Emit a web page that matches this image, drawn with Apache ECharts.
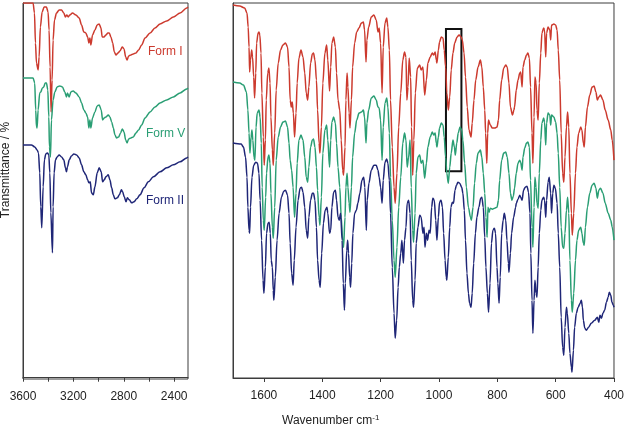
<!DOCTYPE html>
<html>
<head>
<meta charset="UTF-8">
<title>IR spectra - Form I / V / II</title>
<script type="text/javascript" src="https://cdn.jsdelivr.net/npm/echarts@6.0.0/dist/echarts.min.js"></script>
</head>
<body style="margin:0;background:#fff;">
<div id="chart" style="width:627px;height:427px;"></div>
<script>
// tick positions (cm-1)
var highTickMarks = [3600, 3400, 3200, 3000, 2800, 2600, 2400];
var highTicks = [3600, 3200, 2800, 2400];
var lowTicks = [1600, 1400, 1200, 1000, 800, 600, 400];

var formNames = ['Form I', 'Form V', 'Form II'];
var formColors = ['#cc3a2e', '#2a9e74', '#1f2677'];

// marked region in the fingerprint panel [wavenumber, offset transmittance]
var boxFrom = [976, 349];
var boxTo = [923, 207];

// 3600-2290 cm-1, offset transmittance (arbitrary units)
var formI_high = [[3600,375],[3520,375],[3509,365],[3501,335],[3493,315],[3480,308],[3472,321],[3462,351],[3448,366],[3432,371],[3414,371],[3401,366],[3393,348],[3385,311],[3377,266],[3369,298],[3361,338],[3350,358],[3334,365],[3313,368],[3294,368],[3276,365],[3263,361],[3252,363],[3241,361],[3228,363],[3207,365],[3180,363],[3154,360],[3135,353],[3117,346],[3101,345],[3087,341],[3077,335],[3069,340],[3061,333],[3048,343],[3029,348],[3011,353],[2995,354],[2981,350],[2971,341],[2957,341],[2942,343],[2926,345],[2915,345],[2902,341],[2888,335],[2875,326],[2862,323],[2846,325],[2830,327],[2812,331],[2798,329],[2785,321],[2774,318],[2761,322],[2743,323],[2724,324],[2703,325],[2682,328],[2658,333],[2631,340],[2591,345],[2552,350],[2512,354],[2459,357],[2406,361],[2353,365],[2300,370],[2290,371]];

var formV_high = [[3600,300],[3520,300],[3507,295],[3499,268],[3493,251],[3488,250],[3480,268],[3467,285],[3459,286],[3446,290],[3435,291],[3424,295],[3414,295],[3403,288],[3395,261],[3390,231],[3382,221],[3374,258],[3361,278],[3347,286],[3329,291],[3308,292],[3287,291],[3268,286],[3255,281],[3247,285],[3233,281],[3220,286],[3202,287],[3180,285],[3154,281],[3135,275],[3117,268],[3101,265],[3087,261],[3077,250],[3069,258],[3061,250],[3048,260],[3029,266],[3011,272],[2995,273],[2979,268],[2968,258],[2955,260],[2942,261],[2923,263],[2910,261],[2896,256],[2883,250],[2870,243],[2857,240],[2841,241],[2825,245],[2812,249],[2798,246],[2785,238],[2774,235],[2761,239],[2743,240],[2724,241],[2703,245],[2682,248],[2658,253],[2631,260],[2591,266],[2552,271],[2512,275],[2459,278],[2406,281],[2353,285],[2300,289],[2290,290]];

var formII_high = [[3600,233],[3533,233],[3507,231],[3488,228],[3477,225],[3467,205],[3459,171],[3451,150],[3440,191],[3430,218],[3419,224],[3406,225],[3395,223],[3387,205],[3379,165],[3366,125],[3361,171],[3353,205],[3342,218],[3329,221],[3313,223],[3294,221],[3276,218],[3263,210],[3255,206],[3247,211],[3233,218],[3215,222],[3196,224],[3175,223],[3154,220],[3135,213],[3117,206],[3101,203],[3087,198],[3077,195],[3066,196],[3056,185],[3042,183],[3029,191],[3011,205],[2995,210],[2979,206],[2968,196],[2955,198],[2942,201],[2923,203],[2910,198],[2896,190],[2883,183],[2870,179],[2851,180],[2835,183],[2819,188],[2809,186],[2796,181],[2782,176],[2772,180],[2756,178],[2737,175],[2719,176],[2697,179],[2671,183],[2639,190],[2605,196],[2565,201],[2512,206],[2459,210],[2406,213],[2353,216],[2300,220],[2290,221]];

// 1706-400 cm-1
var formI_low = [[1706,373],[1683,372],[1666,370],[1658,365],[1654,351],[1651,331],[1649,306],[1646,318],[1642,328],[1639,321],[1635,301],[1632,280],[1628,305],[1625,335],[1620,345],[1617,346],[1614,343],[1610,325],[1607,285],[1602,241],[1599,213],[1595,238],[1592,278],[1587,305],[1583,310],[1579,295],[1576,261],[1571,228],[1568,213],[1563,245],[1558,288],[1551,315],[1543,328],[1535,333],[1526,335],[1519,331],[1514,311],[1510,278],[1506,271],[1503,276],[1499,265],[1495,241],[1490,265],[1486,295],[1480,320],[1473,328],[1466,321],[1460,305],[1455,285],[1450,278],[1446,291],[1440,315],[1434,324],[1430,325],[1425,318],[1420,298],[1416,268],[1411,235],[1408,225],[1403,251],[1398,295],[1391,325],[1385,333],
  [1381,318],[1375,287],[1371,311],[1367,335],[1361,341],[1355,331],[1351,305],[1346,278],[1340,268],[1335,238],[1330,208],[1327,203],[1322,231],[1319,278],[1315,305],[1312,291],[1308,265],[1305,250],[1300,278],[1296,311],[1289,335],[1282,346],[1274,350],[1266,355],[1259,356],[1255,348],[1250,316],[1247,338],[1241,351],[1232,361],[1223,363],[1215,358],[1209,346],[1205,350],[1200,335],[1195,285],[1191,331],[1185,355],[1179,360],[1175,351],[1170,328],[1166,278],[1160,231],[1154,191],[1150,175],[1144,205],[1138,251],[1131,285],[1124,318],[1118,326],[1113,321],[1110,278],[1106,291],[1102,320],[1097,301],[1094,251],[1090,203],[1086,238],[1081,285],[1074,310],
  [1066,313],[1061,308],[1055,311],[1049,283],[1043,298],[1038,315],[1030,321],[1023,325],[1018,323],[1013,326],[1009,318],[1007,315],[1002,328],[998,336],[992,341],[986,340],[982,328],[977,311],[973,285],[968,268],[963,281],[958,308],[952,325],[946,335],[938,341],[931,343],[924,341],[920,338],[914,325],[909,301],[903,271],[897,248],[890,241],[886,255],[880,278],[874,298],[866,311],[858,318],[853,311],[848,291],[843,268],[840,245],[836,215],[833,245],[830,258],[824,253],[817,250],[809,250],[801,251],[796,258],[792,278],[785,298],[778,310],[771,313],[766,311],[760,295],[755,271],[748,263],[743,268],
  [741,271],[735,288],[729,298],[723,305],[720,306],[715,291],[712,311],[706,318],[700,323],[695,325],[690,320],[686,291],[681,245],[678,215],[674,261],[671,301],[667,295],[664,268],[660,258],[656,295],[651,325],[647,345],[641,350],[638,348],[634,321],[631,345],[626,351],[620,348],[617,338],[614,353],[606,354],[600,353],[595,348],[591,328],[586,298],[581,245],[576,205],[572,196],[568,221],[563,251],[559,266],[555,251],[551,205],[546,165],[543,143],[538,165],[532,205],[527,231],[521,245],[514,251],[510,248],[505,235],[502,231],[498,251],[491,271],[483,283],[475,291],[468,292],[462,286],[457,278],[452,281],[446,283],[438,278],[430,268],[420,258],[411,248],[406,238],[400,218]];

var formV_low = [[1706,296],[1683,295],[1670,293],[1660,286],[1655,268],[1651,245],[1648,225],[1644,241],[1641,248],[1638,238],[1634,221],[1631,218],[1627,251],[1623,265],[1617,268],[1613,261],[1609,235],[1606,191],[1602,158],[1599,148],[1594,181],[1591,205],[1586,221],[1583,223],[1579,215],[1576,185],[1571,151],[1568,140],[1563,171],[1558,218],[1551,241],[1543,251],[1535,256],[1526,257],[1519,251],[1514,235],[1510,218],[1505,208],[1500,191],[1495,161],[1490,185],[1486,215],[1480,238],[1473,243],[1466,238],[1460,221],[1455,201],[1450,196],[1446,211],[1440,231],[1434,238],[1430,239],[1425,231],[1420,211],[1416,188],[1411,161],[1408,153],[1403,181],[1398,225],[1391,248],[1385,253],
  [1381,238],[1375,211],[1371,238],[1367,256],[1361,261],[1355,255],[1351,235],[1346,211],[1340,191],[1335,161],[1330,138],[1327,131],[1322,161],[1319,191],[1315,205],[1312,191],[1308,175],[1305,166],[1300,191],[1296,221],[1289,245],[1282,258],[1274,265],[1266,266],[1259,268],[1255,261],[1250,235],[1247,255],[1241,268],[1232,280],[1223,282],[1215,278],[1209,271],[1205,270],[1200,258],[1195,218],[1191,251],[1185,275],[1179,280],[1175,271],[1170,245],[1166,201],[1160,158],[1154,118],[1150,101],[1144,131],[1138,171],[1131,201],[1124,235],[1118,245],[1113,238],[1109,211],[1104,221],[1099,238],[1095,191],[1090,148],[1087,136],[1082,165],[1078,205],[1072,221],
  [1066,223],[1061,215],[1055,218],[1049,200],[1043,215],[1038,231],[1030,241],[1023,246],[1018,243],[1013,245],[1009,235],[1007,231],[1002,241],[998,250],[992,255],[986,253],[982,241],[977,221],[973,205],[968,195],[963,211],[958,225],[952,238],[947,231],[944,223],[939,235],[934,245],[928,251],[922,248],[918,238],[912,215],[906,191],[899,171],[892,161],[889,158],[883,171],[878,195],[872,215],[866,225],[858,228],[853,221],[848,205],[843,185],[839,161],[835,141],[832,171],[828,166],[824,170],[817,169],[809,170],[801,171],[796,178],[792,198],[785,218],[778,225],[771,226],[766,221],[760,205],[755,185],[750,178],[745,182],
  [741,190],[735,205],[729,215],[723,218],[720,216],[715,208],[712,221],[706,230],[700,235],[695,236],[690,231],[686,198],[681,151],[678,131],[674,171],[671,201],[667,191],[664,175],[660,170],[656,205],[651,238],[647,255],[641,260],[638,256],[634,233],[631,255],[626,265],[620,263],[617,253],[614,263],[606,261],[600,256],[595,245],[591,225],[586,191],[581,151],[576,131],[572,130],[568,145],[563,168],[559,181],[555,165],[551,118],[546,78],[543,66],[538,85],[532,118],[527,138],[521,148],[514,151],[510,145],[505,135],[502,133],[498,151],[491,171],[483,185],[475,193],[468,195],[462,190],[457,180],[452,188],[446,190],[438,185],[430,175],[420,165],[411,158],[406,151],[400,138]];

var formII_low = [[1706,235],[1678,234],[1670,231],[1663,221],[1658,201],[1655,171],[1651,148],[1649,145],[1646,171],[1641,201],[1635,213],[1628,216],[1622,215],[1617,205],[1613,178],[1608,138],[1603,98],[1600,85],[1595,111],[1591,145],[1586,155],[1582,156],[1578,145],[1575,118],[1571,111],[1568,88],[1566,78],[1561,101],[1555,138],[1548,165],[1540,181],[1532,187],[1526,188],[1519,183],[1514,165],[1510,135],[1505,105],[1500,93],[1496,118],[1490,151],[1483,178],[1476,190],[1471,191],[1466,186],[1460,171],[1455,148],[1450,140],[1446,161],[1440,178],[1434,185],[1430,185],[1425,178],[1420,151],[1416,118],[1411,98],[1407,91],[1402,125],[1396,155],[1390,168],[1384,171],
  [1381,165],[1375,145],[1371,148],[1367,171],[1361,186],[1355,188],[1351,178],[1346,161],[1342,158],[1337,165],[1332,138],[1328,95],[1324,68],[1321,95],[1316,128],[1313,138],[1310,125],[1306,101],[1303,91],[1299,115],[1295,145],[1289,165],[1283,168],[1278,175],[1271,185],[1264,198],[1258,201],[1254,191],[1249,148],[1246,178],[1240,195],[1232,208],[1223,213],[1215,213],[1209,208],[1205,201],[1200,191],[1195,175],[1191,198],[1185,216],[1179,219],[1175,215],[1170,198],[1166,165],[1160,111],[1154,65],[1150,40],[1145,58],[1140,91],[1136,111],[1131,125],[1127,138],[1122,115],[1118,138],[1113,151],[1109,175],[1104,178],[1099,165],[1095,118],[1090,78],[1087,71],[1082,98],[1078,135],[1072,151],
  [1066,163],[1061,161],[1055,145],[1051,151],[1048,131],[1043,145],[1039,138],[1034,148],[1030,145],[1025,171],[1021,180],[1016,178],[1011,158],[1007,138],[1002,161],[998,176],[993,178],[988,171],[984,145],[979,118],[975,101],[973,98],[968,121],[963,151],[959,171],[954,176],[950,175],[945,188],[940,193],[935,196],[929,195],[922,191],[918,185],[913,168],[909,138],[904,105],[899,85],[895,75],[890,71],[886,85],[881,115],[875,145],[870,161],[863,171],[857,180],[853,181],[848,171],[843,141],[839,111],[834,85],[830,66],[825,95],[820,135],[815,148],[810,150],[806,145],[801,111],[798,95],[794,75],[790,101],[785,145],[780,158],[776,165],[771,158],[767,138],[762,115],[760,106],[755,125],[751,145],[744,161],[737,171],
  [735,175],[729,179],[723,183],[720,181],[715,178],[710,188],[704,191],[698,192],[693,186],[688,165],[685,125],[681,78],[678,45],[674,78],[671,98],[667,85],[664,81],[660,111],[656,145],[651,168],[647,178],[641,181],[638,178],[634,161],[631,178],[626,196],[622,201],[617,185],[614,165],[610,185],[606,193],[601,190],[595,175],[591,145],[586,111],[581,61],[576,31],[572,23],[568,51],[563,71],[560,65],[555,45],[551,25],[546,11],[544,6],[539,28],[535,51],[529,65],[523,71],[516,75],[512,78],[508,71],[505,58],[500,50],[495,48],[487,51],[478,55],[466,58],[457,61],[452,56],[448,63],[443,60],[438,65],[432,68],[426,76],[420,81],[416,86],[411,83],[407,76],[402,73],[400,71]];

var chart = echarts.init(document.getElementById('chart'));
var axisColor = '#3c3c3c';
var textColor = '#222';
var font = '"Liberation Sans", Arial, sans-serif';

function spectrum(name, data, color, idx) {
    return {
        name: name,
        type: 'line',
        xAxisIndex: idx,
        yAxisIndex: idx,
        data: data,
        symbol: 'none',
        showSymbol: false,
        smooth: 0.3,
        smoothMonotone: 'x',
        lineStyle: { color: color, width: 1.5 },
        itemStyle: { color: color },
        z: 3
    };
}

function xAxisOf(idx, min, max, tickMarks, labels) {
    return {
        type: 'value', gridIndex: idx, inverse: true, min: min, max: max,
        axisLine: { show: true, lineStyle: { color: axisColor, width: 1 } },
        axisTick: { show: true, inside: false, length: 4, customValues: tickMarks,
                    lineStyle: { color: axisColor } },
        axisLabel: { show: true, customValues: labels, margin: 12, fontSize: 12,
                     color: textColor, fontFamily: font,
                     formatter: function (v) { return String(v); } },
        splitLine: { show: false }
    };
}

function yAxisOf(idx, min, max) {
    return {
        type: 'value', gridIndex: idx, min: min, max: max,
        axisLine: { show: true, lineStyle: { color: axisColor } },
        axisTick: { show: false },
        axisLabel: { show: false },
        splitLine: { show: false }
    };
}

var series = [
    spectrum(formNames[0], formI_high, formColors[0], 0),
    spectrum(formNames[1], formV_high, formColors[1], 0),
    spectrum(formNames[2], formII_high, formColors[2], 0),
    spectrum(formNames[0], formI_low, formColors[0], 1),
    spectrum(formNames[1], formV_low, formColors[1], 1),
    spectrum(formNames[2], formII_low, formColors[2], 1)
];
series[5].markArea = {
    silent: true,
    itemStyle: { color: 'rgba(0,0,0,0)', borderColor: '#111', borderWidth: 2 },
    data: [[{ coord: boxFrom }, { coord: boxTo }]]
};

var option = {
    backgroundColor: '#fff',
    animation: false,
    grid: [
        { left: 23, right: 439, top: 3, bottom: 48, show: true, borderColor: axisColor, borderWidth: 1 },
        { left: 233, right: 13, top: 3, bottom: 49, show: true, borderColor: axisColor, borderWidth: 1 }
    ],
    xAxis: [
        xAxisOf(0, 2290, 3600, highTickMarks, highTicks),
        xAxisOf(1, 400, 1706, lowTicks, lowTicks)
    ],
    yAxis: [yAxisOf(0, -1.3, 375), yAxisOf(1, 0.3, 375)],
    series: series,
    graphic: [
        { type: 'text', x: 6, y: 170, rotation: Math.PI / 2,
          style: { text: 'Transmittance / %', fill: textColor, font: '12px ' + font,
                   align: 'center', verticalAlign: 'middle' } },
        { type: 'text', left: 148, top: 46, style: { text: formNames[0], fill: formColors[0], font: '12px ' + font } },
        { type: 'text', left: 146, top: 128, style: { text: formNames[1], fill: formColors[1], font: '12px ' + font } },
        { type: 'text', left: 146, top: 195, style: { text: formNames[2], fill: formColors[2], font: '12px ' + font } },
        { type: 'text', left: 282, top: 414, style: {
            text: 'Wavenumber cm{sup|-1}', fill: textColor, font: '12px ' + font,
            rich: { sup: { fontSize: 8, fontFamily: font, fill: textColor, verticalAlign: 'top', padding: [0, 0, 5, 0] } }
        } }
    ]
};
chart.setOption(option);
</script>
</body>
</html>
